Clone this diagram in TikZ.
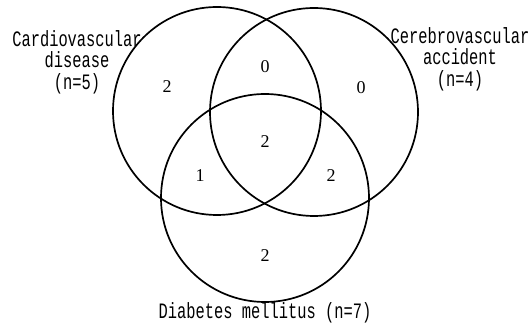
\documentclass[tikz,border=0pt]{standalone}
\usepackage{fontspec}
\setmainfont{Liberation Serif}
\newfontfamily\lblfont[FakeStretch=0.7]{Liberation Mono}
\begin{document}
\begin{tikzpicture}
[
    x=1pt, y=-1pt,
    setcircle/.style={draw, circle, line width=1.7pt, minimum size=208pt, inner sep=0pt},
    setlabel/.style={align=center, font=\lblfont\fontsize{22}{21.5}\selectfont},
    count/.style={font=\fontsize{18}{18}\selectfont}
]
    \useasboundingbox (0,0) rectangle (531,328);

    \node [setcircle] (cvd) at (217,111) {};
    \node [setcircle] (cva) at (314,112) {};
    \node [setcircle] (dm)  at (265,198) {};

    \node [setlabel] (cvdlabel) at (77,62) {Cardiovascular\\disease\\(n=5)};
    \node [setlabel] (cvalabel) at (460,59) {Cerebrovascular\\accident\\(n=4)};
    \node [setlabel] (dmlabel)  at (265,313) {Diabetes mellitus (n=7)};

    \node [count] (onlycvd)  at (167,87)  {2};
    \node [count] (cvdcva)   at (265,67)  {0};
    \node [count] (onlycva)  at (361,88)  {0};
    \node [count] (all)      at (265,142) {2};
    \node [count] (cvddm)    at (200,176) {1};
    \node [count] (cvadm)    at (331,176) {2};
    \node [count] (onlydm)   at (265,256) {2};
\end{tikzpicture}
\end{document}
